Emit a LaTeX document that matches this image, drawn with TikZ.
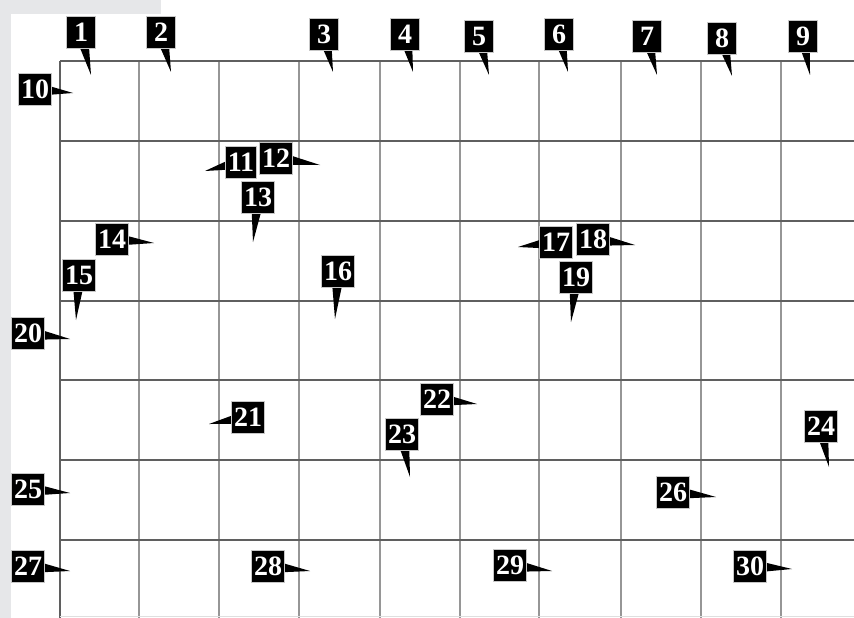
\documentclass[tikz,border=0pt]{standalone}
\usepackage{fontspec}
\setmainfont{Liberation Serif}
\usetikzlibrary{calc,backgrounds}

\definecolor{pagegray}{RGB}{230,231,233}
\definecolor{gridgray}{RGB}{95,95,95}
\definecolor{gridlight}{RGB}{150,150,150}

\tikzset{
    tagbox/.style={fill=black, draw=black!22, line width=0.8pt, text=white,
        font=\fontsize{28}{28}\selectfont\bfseries,
        inner xsep=2.5pt, inner ysep=0pt, minimum width=29pt, minimum height=32pt},
    tail/.style={fill=black},
    hline/.style={gridgray, line width=1.6pt},
    vline/.style={gridlight, line width=1.8pt},
}

% 标签：编号，方框中心，指向的点
\newcommand{\tagpin}[3]{%
    \node[tagbox] (t#1) at (#2) {#1};
    \coordinate (p#1) at (#3);
    \begin{scope}[on background layer]
        \fill[tail] ($(t#1.center)!7pt!90:(p#1)$) -- (p#1) -- ($(t#1.center)!7pt!-90:(p#1)$) -- cycle;
    \end{scope}
}

\begin{document}
\begin{tikzpicture}[x=1pt, y=-1pt]
    \useasboundingbox (0,0) rectangle (854,618);

    % 背景与网格
    \begin{scope}[on background layer]
        \fill[pagegray] (0,0) rectangle (11,618);
        \fill[pagegray] (0,0) rectangle (161,14);
        \foreach \x in {60,139,219,299,380,460,539,621,701,781}
            \draw[vline] (\x,61) -- (\x,618);
        \draw[vline, gridgray] (60,61) -- (60,618);
        \foreach \y in {61,141,221,301,380,460,540}
            \draw[hline] (60,\y) -- (854,\y);
        \draw[gray!25, line width=1pt] (60,616) -- (854,616);
    \end{scope}

    % 上方一排
    \tagpin{1}{81,32}{91,75}
    \tagpin{2}{161,32}{171,72}
    \tagpin{3}{324,34}{333,72}
    \tagpin{4}{405,34}{413,72}
    \tagpin{5}{479,36}{489,75}
    \tagpin{6}{559,34}{568,72}
    \tagpin{7}{647,36}{657,75}
    \tagpin{8}{722,38}{732,76}
    \tagpin{9}{803,36}{810,75}

    % 网格内
    \tagpin{10}{35,89}{73,93}
    \tagpin{11}{241,162}{205,171}
    \tagpin{12}{276,158}{320,165}
    \tagpin{13}{258,197}{253,242}
    \tagpin{14}{112,239}{154,243}
    \tagpin{15}{79,275}{76,320}
    \tagpin{16}{338,271}{335,319}
    \tagpin{17}{556,242}{518,247}
    \tagpin{18}{593,239}{635,245}
    \tagpin{19}{576,277}{571,322}
    \tagpin{20}{28,333}{70,339}
    \tagpin{21}{248,417}{209,424}
    \tagpin{22}{437,399}{477,404}
    \tagpin{23}{402,434}{410,477}
    \tagpin{24}{821,426}{829,467}
    \tagpin{25}{28,489}{70,493}
    \tagpin{26}{673,492}{716,497}
    \tagpin{27}{28,566}{70,571}
    \tagpin{28}{268,566}{310,571}
    \tagpin{29}{510,565}{552,571}
    \tagpin{30}{750,566}{792,569}
\end{tikzpicture}
\end{document}
